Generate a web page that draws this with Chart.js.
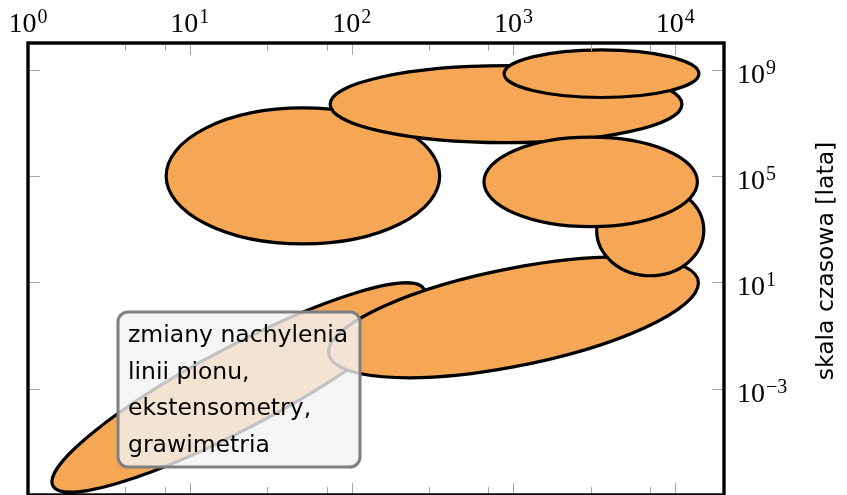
<!DOCTYPE html>
<html>
<head>
<meta charset="utf-8">
<script src="https://cdn.jsdelivr.net/npm/chart.js@4.4.1/dist/chart.umd.min.js"></script>
<style>
  html, body { margin: 0; padding: 0; background: #fff; }
  #wrap { width: 847px; height: 495px; position: relative; }
</style>
</head>
<body>
<div id="wrap"><canvas id="chart"></canvas></div>
<script>
// Each ellipse: centre, plus the ends of two conjugate radii (data units on log axes).
// Listed in drawing order, bottom first.
const centreX  = [20,     1000,  50,    900,   3500,  7000,  3000];
const centreY  = [1.1e-3, 0.48,  1e5,   5e7,   7e8,   900,   6e4];
const radiusAX = [280,    13900, 350,   11000, 14000, 15000, 13700];
const radiusAY = [5.6,    9.5,   1e5,   5e7,   7e8,   900,   6e4];
const radiusBX = [15,     1000,  50,    900,   3500,  7000,  3000];
const radiusBY = [0.023,  35,    3.6e7, 1.4e9, 5.5e9, 4.6e4, 2.9e6];

const xTickExps = [0, 1, 2, 3, 4];
const yTickExps = [9, 5, 1, -3];
const yTitle = "skala czasowa [lata]";
const noteLines = ["zmiany nachylenia", "linii pionu,", "ekstensometry,", "grawimetria"];

const fillColor = "#f5a755";
const tickColor = "#a8a8a8";

function supText(e) {
  return String(e).replace("-", "\u2212");
}

const ellipsePlugin = {
  id: "ellipses",
  beforeDatasetsDraw(chart) {
    const { ctx, chartArea: a, scales: { x, y } } = chart;
    ctx.save();
    ctx.beginPath();
    ctx.rect(a.left, a.top, a.right - a.left, a.bottom - a.top);
    ctx.clip();
    centreX.forEach((v, i) => {
      const cx = x.getPixelForValue(v);
      const cy = y.getPixelForValue(centreY[i]);
      const ux = x.getPixelForValue(radiusAX[i]) - cx;
      const uy = y.getPixelForValue(radiusAY[i]) - cy;
      const vx = x.getPixelForValue(radiusBX[i]) - cx;
      const vy = y.getPixelForValue(radiusBY[i]) - cy;
      ctx.save();
      ctx.transform(ux, uy, vx, vy, cx, cy);
      ctx.beginPath();
      ctx.arc(0, 0, 1, 0, Math.PI * 2);
      ctx.closePath();
      ctx.restore();
      ctx.fillStyle = fillColor;
      ctx.fill();
      ctx.lineWidth = 3.2;
      ctx.strokeStyle = "#000";
      ctx.stroke();
    });
    ctx.restore();
  }
};

const framePlugin = {
  id: "frame",
  afterDraw(chart) {
    const { ctx, chartArea: a, scales: { x, y } } = chart;
    ctx.save();

    // tick marks, inside the box
    ctx.strokeStyle = tickColor;
    ctx.lineWidth = 1;
    x.ticks.forEach((t) => {
      const px = Math.round(x.getPixelForValue(t.value)) + 0.5;
      if (px < a.left + 2 || px > a.right - 2) return;
      const lg = Math.log10(t.value);
      const len = Math.abs(lg - Math.round(lg)) < 1e-9 ? 12 : 8;
      ctx.beginPath();
      ctx.moveTo(px, a.top); ctx.lineTo(px, a.top + len);
      ctx.moveTo(px, a.bottom); ctx.lineTo(px, a.bottom - len);
      ctx.stroke();
    });
    yTickExps.forEach((e) => {
      const py = Math.round(y.getPixelForValue(Math.pow(10, e))) + 0.5;
      ctx.beginPath();
      ctx.moveTo(a.left, py); ctx.lineTo(a.left + 12, py);
      ctx.moveTo(a.right, py); ctx.lineTo(a.right - 12, py);
      ctx.stroke();
    });

    ctx.strokeStyle = "#000";
    ctx.lineWidth = 3.4;
    ctx.strokeRect(a.left, a.top, a.right - a.left, a.bottom - a.top);

    // tick labels 10^n
    ctx.fillStyle = "#000";
    ctx.textBaseline = "alphabetic";
    ctx.textAlign = "left";
    const big = "28px 'Liberation Serif'";
    const small = "20px 'Liberation Serif'";
    xTickExps.forEach((e) => {
      const px = x.getPixelForValue(Math.pow(10, e));
      ctx.font = big;
      const w1 = ctx.measureText("10").width;
      ctx.font = small;
      const w2 = ctx.measureText(supText(e)).width;
      const x0 = px - (w1 + w2 + 1) / 2;
      ctx.font = big;
      ctx.fillText("10", x0, 32);
      ctx.font = small;
      ctx.fillText(supText(e), x0 + w1 + 1, 23);
    });
    yTickExps.forEach((e) => {
      const py = y.getPixelForValue(Math.pow(10, e));
      ctx.font = big;
      const w1 = ctx.measureText("10").width;
      ctx.fillText("10", a.right + 13, py + 13);
      ctx.font = small;
      ctx.fillText(supText(e), a.right + 13 + w1 + 1, py + 4);
    });

    // axis title
    ctx.save();
    ctx.translate(833, 261);
    ctx.rotate(-Math.PI / 2);
    ctx.textAlign = "center";
    ctx.font = "23.5px 'DejaVu Sans'";
    ctx.fillText(yTitle, 0, 0);
    ctx.restore();

    // note box
    ctx.beginPath();
    ctx.roundRect(118, 312, 242, 155, 10);
    ctx.fillStyle = "rgba(242,242,242,0.8)";
    ctx.fill();
    ctx.strokeStyle = "#808080";
    ctx.lineWidth = 3;
    ctx.stroke();
    ctx.fillStyle = "#000";
    ctx.font = "23.5px 'DejaVu Sans'";
    noteLines.forEach((line, i) => {
      ctx.fillText(line, 128, 342 + i * 36.7);
    });

    ctx.restore();
  }
};

new Chart(document.getElementById("chart"), {
  type: "scatter",
  data: { datasets: [] },
  options: {
    responsive: true,
    maintainAspectRatio: false,
    animation: false,
    layout: { padding: { left: 28, top: 43, right: 123, bottom: 0 } },
    plugins: { legend: { display: false }, tooltip: { enabled: false } },
    scales: {
      x: { type: "logarithmic", position: "top", min: 1, max: 2e4, display: false },
      y: { type: "logarithmic", position: "right", min: 1e-7, max: 1e10, display: false }
    }
  },
  plugins: [ellipsePlugin, framePlugin]
});
</script>
</body>
</html>
